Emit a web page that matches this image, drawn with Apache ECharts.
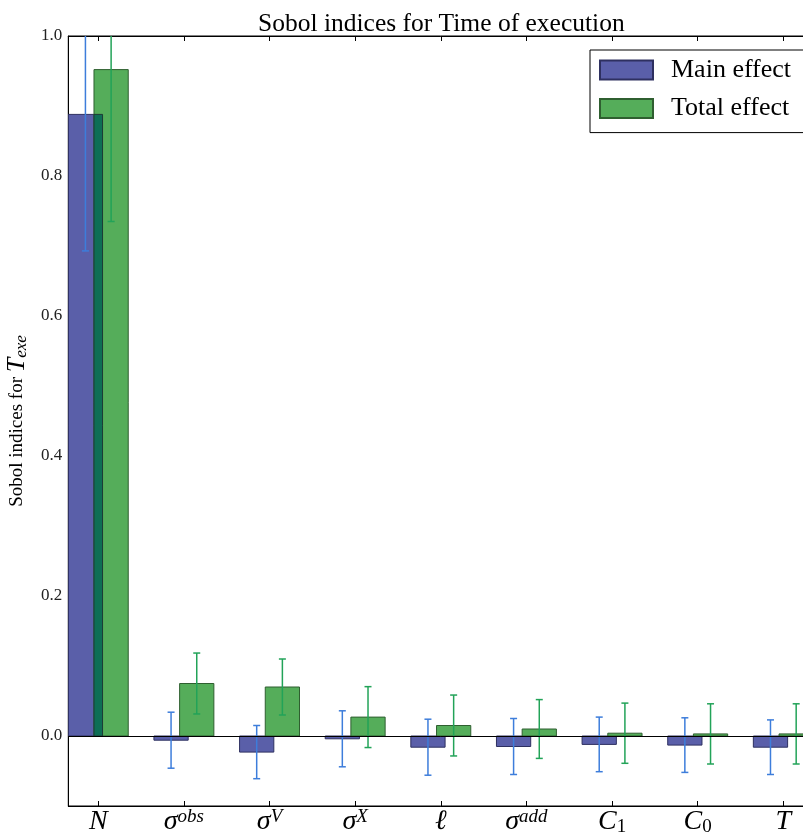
<!DOCTYPE html>
<html><head><meta charset="utf-8">
<script src="https://cdn.jsdelivr.net/npm/echarts@6/dist/echarts.min.js"></script>
<style>html,body{margin:0;padding:0;overflow:hidden;background:#fff}#c{width:830px;height:840px}</style>
</head><body><div id="c"></div>
<script>
// ---- data ----
const catBase = ['N', 'σ', 'σ', 'σ', 'ℓ', 'σ', 'C', 'C', 'T'];
const catSup  = ['', 'obs', 'V', 'X', '', 'add', '', '', ''];
const catSub  = ['', '', '', '', '', '', '1', '0', ''];
const mainValues  = [0.888, -0.006, -0.023, -0.004, -0.016, -0.015, -0.012, -0.013, -0.016];
const mainErrors  = [0.195, 0.040, 0.038, 0.040, 0.040, 0.040, 0.039, 0.039, 0.039];
const totalValues = [0.952, 0.075, 0.070, 0.027, 0.015, 0.010, 0.004, 0.003, 0.003];
const totalErrors = [0.217, 0.0435, 0.040, 0.0435, 0.0435, 0.042, 0.043, 0.043, 0.043];
const yTicks = [0.0, 0.2, 0.4, 0.6, 0.8, 1.0];
const xTicks = catBase.map((_, i) => i);

const SERIF = 'Liberation Serif, DejaVu Serif, serif';
const BAR_W = 0.4;

function makeRender(offset, fill, edge, errColor, isTotal) {
  return function (params, api) {
    const i = api.value(0), v = api.value(1), e = api.value(2);
    const p0 = api.coord([i + offset - BAR_W / 2, 0]);
    const p1 = api.coord([i + offset + BAR_W / 2, v]);
    const children = [];
    children.push({
      type: 'rect',
      shape: { x: Math.min(p0[0], p1[0]), y: Math.min(p0[1], p1[1]), width: Math.abs(p1[0] - p0[0]), height: Math.abs(p1[1] - p0[1]) },
      style: { fill: fill, stroke: edge, lineWidth: 1 }
    });
    if (isTotal) {
      const m = mainValues[params.dataIndex];
      if (m > 0 && v > 0) {
        const o0 = api.coord([i - 0.05, 0]);
        const o1 = api.coord([i + 0.05, Math.min(m, v)]);
        children.push({
          type: 'rect',
          shape: { x: o0[0], y: o1[1], width: o1[0] - o0[0], height: o0[1] - o1[1] },
          style: { fill: '#0e6e55', stroke: '#1c3a35', lineWidth: 1 }
        });
      }
    }
    const c = api.coord([i + offset, v]);
    const lo = api.coord([i + offset, v - e]);
    const hi = api.coord([i + offset, v + e]);
    const cap = 3.5;
    const ls = { stroke: errColor, lineWidth: 1.5 };
    children.push({ type: 'line', shape: { x1: c[0], y1: lo[1], x2: c[0], y2: hi[1] }, style: ls });
    children.push({ type: 'line', shape: { x1: c[0] - cap, y1: lo[1], x2: c[0] + cap, y2: lo[1] }, style: ls });
    children.push({ type: 'line', shape: { x1: c[0] - cap, y1: hi[1], x2: c[0] + cap, y2: hi[1] }, style: ls });
    return { type: 'group', children: children };
  };
}

const chart = echarts.init(document.getElementById('c'), null, { renderer: 'canvas' });
chart.setOption({
  animation: false,
  backgroundColor: '#fff',
  title: {
    text: 'Sobol indices for Time of execution',
    left: 253, top: 6,
    textStyle: { fontFamily: SERIF, fontSize: 25.5, fontWeight: 'normal', color: '#000' }
  },
  legend: {
    left: 590, top: 50, orient: 'vertical', icon: 'rect',
    itemWidth: 53, itemHeight: 19, itemGap: 12.6,
    padding: [7, 20, 11, 9],
    borderColor: '#000', borderWidth: 1, backgroundColor: '#fff',
    selectedMode: false,
    textStyle: { fontFamily: SERIF, fontSize: 26, lineHeight: 26, color: '#000', padding: [0, 0, 0, 13] },
    data: ['Main effect', 'Total effect']
  },
  grid: { left: 68.3, right: 16.7, top: 36, bottom: 34, outerBoundsMode: 'none', containLabel: false, show: true, borderColor: '#000', borderWidth: 1, backgroundColor: 'transparent' },
  xAxis: [{
    type: 'value', min: -0.35, max: 8.35, position: 'bottom',
    splitLine: { show: false },
    axisLine: { show: true, onZero: false, lineStyle: { color: '#000' } },
    axisTick: { show: true, inside: true, length: 5, customValues: xTicks, lineStyle: { color: '#000' } },
    axisLabel: {
      customValues: xTicks, margin: 1,
      formatter: function (v) {
        const i = Math.round(v);
        let s = '{b|' + catBase[i] + '}';
        if (catSup[i]) s += '{sup|' + catSup[i] + '}';
        if (catSub[i]) s += '{sub|' + catSub[i] + '}';
        return s;
      },
      rich: {
        b: { fontFamily: SERIF, fontStyle: 'italic', fontSize: 28, lineHeight: 30, color: '#000' },
        sup: { fontFamily: SERIF, fontStyle: 'italic', fontSize: 19, lineHeight: 10, verticalAlign: 'top', color: '#000' },
        sub: { fontFamily: SERIF, fontSize: 19, lineHeight: 14, verticalAlign: 'bottom', color: '#000' }
      }
    }
  }, {
    type: 'value', min: -0.35, max: 8.35, position: 'top',
    splitLine: { show: false },
    axisLine: { show: true, onZero: false, lineStyle: { color: '#000' } },
    axisTick: { show: true, inside: true, length: 5, customValues: xTicks, lineStyle: { color: '#000' } },
    axisLabel: { show: false }
  }],
  yAxis: {
    type: 'value', min: -0.1, max: 1.0,
    splitLine: { show: false },
    axisLine: { show: true, onZero: false, lineStyle: { color: '#000' } },
    axisTick: { show: true, inside: true, length: 5, customValues: yTicks, lineStyle: { color: '#000' } },
    axisLabel: { customValues: yTicks, formatter: v => v.toFixed(1), fontFamily: SERIF, fontSize: 17, color: '#222', margin: 6 },
    name: 'Sobol indices for {t|T}{s|exe}',
    nameLocation: 'middle', nameRotate: 90, nameGap: 30,
    nameTextStyle: {
      fontFamily: SERIF, fontSize: 19, lineHeight: 26, color: '#000',
      rich: {
        t: { fontFamily: SERIF, fontStyle: 'italic', fontSize: 26, lineHeight: 26, color: '#000' },
        s: { fontFamily: SERIF, fontStyle: 'italic', fontSize: 17, lineHeight: 12, verticalAlign: 'bottom', color: '#000' }
      }
    }
  },
  series: [{
    name: 'Main effect', type: 'custom', xAxisIndex: 0, clip: true,
    itemStyle: { color: '#5a5fa9', borderColor: '#2e3060', borderWidth: 1 },
    renderItem: makeRender(-0.15, '#5a5fa9', '#2e3060', '#3d7ddb', false),
    encode: { x: 0, y: 1 },
    data: mainValues.map((v, i) => [i, v, mainErrors[i]]),
    markLine: {
      silent: true, symbol: 'none', label: { show: false },
      lineStyle: { color: '#000', width: 1, type: 'solid' },
      data: [{ yAxis: 0 }]
    }
  }, {
    name: 'Total effect', type: 'custom', xAxisIndex: 0, clip: true,
    itemStyle: { color: '#55ad5a', borderColor: '#2f5f30', borderWidth: 1 },
    renderItem: makeRender(0.15, '#55ad5a', '#2f5f30', '#22a358', true),
    encode: { x: 0, y: 1 },
    data: totalValues.map((v, i) => [i, v, totalErrors[i]])
  }]
});
</script>
</body></html>
